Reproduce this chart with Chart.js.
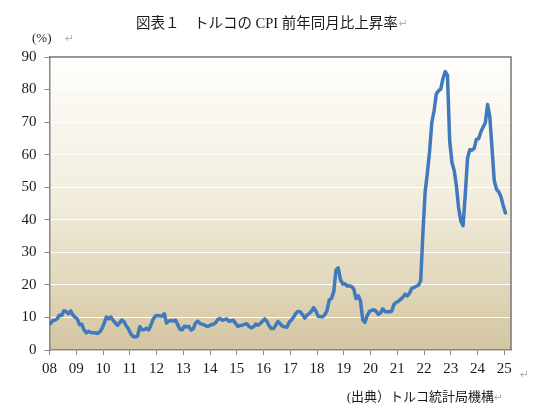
<!DOCTYPE html>
<html>
<head>
<meta charset="utf-8">
<script src="https://cdn.jsdelivr.net/npm/chart.js@4"></script>
<style>
  html, body { margin: 0; padding: 0; background: #ffffff; }
  canvas { display: block; }
</style>
</head>
<body>
<canvas id="cpiChart" width="533" height="413" style="width:533px;height:413px"></canvas>
<script>
// Turkish CPI, year-on-year %, monthly from Jan 2008 to Jan 2025
const cpi = [
  8.17, 9.10, 9.15, 9.66, 10.74, 10.61, 12.06, 11.77, 11.13, 11.99, 10.76, 10.06, // 2008
  9.50, 7.73, 7.89, 6.13, 5.24, 5.73, 5.39, 5.33, 5.27, 5.08, 5.53, 6.53,         // 2009
  8.19, 10.13, 9.56, 10.19, 9.10, 8.37, 7.58, 8.33, 9.24, 8.62, 7.29, 6.40,      // 2010
  4.90, 4.16, 3.99, 4.26, 7.17, 6.24, 6.31, 6.65, 6.15, 7.66, 9.48, 10.45,       // 2011
  10.61, 10.43, 10.43, 11.14, 8.28, 8.87, 9.07, 8.88, 9.19, 7.80, 6.37, 6.16,    // 2012
  7.31, 7.03, 7.29, 6.13, 6.51, 8.30, 8.88, 8.17, 7.88, 7.71, 7.32, 7.40,        // 2013
  7.75, 7.89, 8.39, 9.38, 9.66, 9.16, 9.32, 9.54, 8.86, 8.96, 9.15, 8.17,        // 2014
  7.24, 7.55, 7.61, 7.91, 8.09, 7.20, 6.81, 7.14, 7.95, 7.58, 8.10, 8.81,        // 2015
  9.58, 8.78, 7.46, 6.57, 6.58, 7.64, 8.79, 8.05, 7.28, 7.16, 7.00, 8.53,        // 2016
  9.22, 10.13, 11.29, 11.87, 11.72, 10.90, 9.79, 10.68, 11.20, 11.90, 12.98, 11.92, // 2017
  10.35, 10.26, 10.23, 10.85, 12.15, 15.39, 15.85, 17.90, 24.52, 25.24, 21.62, 20.30, // 2018
  20.35, 19.67, 19.71, 19.50, 18.71, 15.72, 16.65, 15.01, 9.26, 8.55, 10.56, 11.84, // 2019
  12.15, 12.37, 11.86, 10.94, 11.39, 12.62, 11.76, 11.77, 11.75, 11.89, 14.03, 14.60, // 2020
  14.97, 15.61, 16.19, 17.14, 16.59, 17.53, 18.95, 19.25, 19.58, 19.89, 21.31, 36.08, // 2021
  48.69, 54.44, 61.14, 69.97, 73.50, 78.62, 79.60, 80.21, 83.45, 85.51, 84.39, 64.27, // 2022
  57.68, 55.18, 50.51, 43.68, 39.59, 38.21, 47.83, 58.94, 61.53, 61.36, 61.98, 64.77, // 2023
  64.86, 67.07, 68.50, 69.80, 75.45, 71.60, 61.78, 51.97, 49.38, 48.58, 47.09, 44.38, // 2024
  42.12                                                                          // 2025
];

const yearLabels = ["08", "09", "10", "11", "12", "13", "14", "15", "16",
                    "17", "18", "19", "20", "21", "22", "23", "24", "25"];
const yTicks = [0, 10, 20, 30, 40, 50, 60, 70, 80, 90];

const titleText = "図表１　トルコの CPI 前年同月比上昇率";
const unitText = "(%)";
const sourceText = "(出典）トルコ統計局機構";

const serif = "'Liberation Serif', 'Noto Sans CJK JP', serif";
const markFont = "'DejaVu Sans', sans-serif";

// background, frame and the free text around the plot
const framePlugin = {
  id: "frame",
  beforeDraw(chart) {
    const { ctx, chartArea: a } = chart;
    const g = ctx.createLinearGradient(0, a.top, 0, a.bottom);
    g.addColorStop(0, "#fffefb");
    g.addColorStop(0.5, "#f1ecdc");
    g.addColorStop(1, "#d3c5a0");
    ctx.save();
    ctx.fillStyle = g;
    ctx.fillRect(a.left, a.top, a.right - a.left, a.bottom - a.top);
    ctx.restore();
  },
  afterDraw(chart) {
    const { ctx, chartArea: a } = chart;
    ctx.save();
    ctx.strokeStyle = "#777777";
    ctx.lineWidth = 1.5;
    ctx.beginPath();
    ctx.moveTo(a.left, a.top);
    ctx.lineTo(a.right, a.top);
    ctx.lineTo(a.right, a.bottom);
    ctx.stroke();

    ctx.fillStyle = "#1a1a1a";
    ctx.textBaseline = "alphabetic";
    ctx.textAlign = "left";
    ctx.font = "14.5px " + serif;
    ctx.fillText(titleText, 136, 28);
    const tw = ctx.measureText(titleText).width;

    ctx.font = "13px " + serif;
    ctx.fillText(unitText, 32, 42);

    ctx.font = "13px " + serif;
    ctx.textAlign = "right";
    ctx.fillText(sourceText, 494, 401);

    // paragraph marks
    ctx.fillStyle = "#b0b0b0";
    ctx.textAlign = "left";
    ctx.font = "11px " + markFont;
    ctx.fillText("↵", 136 + tw + 1, 27);
    ctx.fillText("↵", 65, 42);
    ctx.fillText("↵", 494, 401);
    ctx.fillText("↵", 520, 378);
    ctx.restore();
  }
};

new Chart(document.getElementById("cpiChart"), {
  type: "line",
  data: {
    datasets: [{
      data: cpi.map((v, i) => ({ x: i + 0.5, y: v })),
      borderColor: "#4079bd",
      borderWidth: 3.5,
      pointRadius: 0,
      borderJoinStyle: "round",
      borderCapStyle: "round",
      tension: 0
    }]
  },
  options: {
    responsive: false,
    animation: false,
    layout: { padding: { top: 57, right: 22, left: 0, bottom: 0 } },
    plugins: { legend: { display: false }, tooltip: { enabled: false } },
    scales: {
      x: {
        type: "linear",
        min: 0,
        max: 207,
        afterFit(scale) { scale.height = 63; },
        afterBuildTicks(scale) {
          scale.ticks = yearLabels.map((_, i) => ({ value: i * 12 }));
        },
        ticks: {
          autoSkip: false,
          maxRotation: 0,
          padding: 5,
          color: "#1a1a1a",
          font: { family: serif, size: 15 },
          callback: (v) => yearLabels[Math.round(v / 12)]
        },
        grid: {
          drawOnChartArea: false,
          tickLength: 5,
          tickColor: "#888888"
        },
        border: { color: "#888888", width: 1.5 }
      },
      y: {
        min: 0,
        max: 90,
        afterFit(scale) { scale.width = 49.5; },
        afterBuildTicks(scale) {
          scale.ticks = yTicks.map((v) => ({ value: v }));
        },
        ticks: {
          padding: 8,
          color: "#1a1a1a",
          font: { family: serif, size: 15 }
        },
        grid: {
          color: (c) => (c.tick && (c.tick.value === 0 || c.tick.value === 90)) ? "rgba(0,0,0,0)" : "#ffffff",
          lineWidth: 1,
          tickLength: 5,
          tickColor: "#888888"
        },
        border: { color: "#888888", width: 1.5 }
      }
    }
  },
  plugins: [framePlugin]
});
</script>
</body>
</html>
